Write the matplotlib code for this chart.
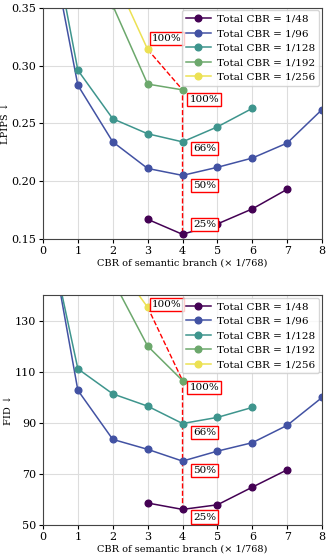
import numpy as np
import matplotlib
matplotlib.use("Agg")
from matplotlib import pyplot as plt

plt.rcParams['font.family'] = ['DejaVu Serif']

labels = ["Total CBR = 1/48", "Total CBR = 1/96", "Total CBR = 1/128",
          "Total CBR = 1/192", "Total CBR = 1/256"]

# x positions (semantic CBR x 1/768) per series
x_48 = [3, 4, 5, 6, 7]
x_96 = [0, 1, 2, 3, 4, 5, 6, 7, 8]
x_128 = [0, 1, 2, 3, 4, 5, 6]
x_192 = [2, 3, 4]
x_256 = [2, 3]

lpips_48 = [0.167, 0.154, 0.163, 0.176, 0.193]
lpips_96 = [0.44, 0.283, 0.234, 0.211, 0.205, 0.212, 0.220, 0.233, 0.262]
lpips_128 = [0.455, 0.296, 0.254, 0.241, 0.234, 0.247, 0.263]
lpips_192 = [0.352, 0.284, 0.279]
lpips_256 = [0.38, 0.314]

fid_48 = [58.7, 56.2, 58.0, 64.9, 71.7]
fid_96 = [179, 102.8, 83.6, 79.7, 75.1, 79.0, 82.3, 89.1, 100.0]
fid_128 = [175, 111.2, 101.4, 96.6, 89.8, 92.2, 96.1]
fid_192 = [146, 120.1, 106.6]
fid_256 = [154, 135.3]

pct_labels = ["100%", "100%", "66%", "50%", "25%"]

colors = ['#440154', '#4252a3', '#3e958d', '#6ca86c', '#ece153']


def draw_panel(ax, ys, ylabel, ylim, yticks, label_pos):
    xs = [x_48, x_96, x_128, x_192, x_256]
    for x, y, c, lab in zip(xs, ys, colors, labels):
        ax.plot(x, y, '-o', color=c, lw=1.1, ms=4.8, label=lab)

    # red dashed path: 1/256 -> 1/192 -> down to 1/48 at x=4
    rx = [3, 4, 4]
    ry = [ys[4][1], ys[3][2], ys[0][1]]
    ax.plot(rx, ry, '--', color='red', lw=1.0, zorder=1.5)

    for (px, py), t in zip(label_pos, pct_labels):
        ax.text(px, py, t, fontsize=7.5, ha='left', va='center',
                bbox=dict(boxstyle='square,pad=0.2', fc='white', ec='red', lw=1.0))

    ax.set_xlim(0, 8)
    ax.set_ylim(*ylim)
    ax.set_xticks(range(9))
    ax.set_yticks(yticks)
    ax.tick_params(labelsize=8, length=3, pad=2)
    ax.grid(True, color='#dddddd', lw=0.8)
    ax.set_axisbelow(True)
    for s in ax.spines.values():
        s.set_color('#444444')
    ax.set_xlabel("CBR of semantic branch (\u00d7 1/768)", fontsize=7, labelpad=2)
    ax.set_ylabel(ylabel, fontsize=7, labelpad=1)
    ax.legend(loc='upper right', fontsize=7.5, handlelength=2.4,
              borderpad=0.4, labelspacing=0.5, handletextpad=0.6,
              borderaxespad=0.25)


fig = plt.figure(figsize=(3.28, 5.57), dpi=100)
ax1 = fig.add_axes([0.131, 0.571, 0.851, 0.415])
ax2 = fig.add_axes([0.131, 0.057, 0.851, 0.413])

draw_panel(ax1, [lpips_48, lpips_96, lpips_128, lpips_192, lpips_256],
           "LPIPS \u2193", (0.15, 0.35), [0.15, 0.20, 0.25, 0.30, 0.35],
           [(3.13, 0.3235), (4.2, 0.2705), (4.3, 0.2285), (4.3, 0.1965), (4.3, 0.1625)])
ax1.yaxis.set_major_formatter(matplotlib.ticker.FormatStrFormatter('%.2f'))

draw_panel(ax2, [fid_48, fid_96, fid_128, fid_192, fid_256],
           "FID \u2193", (50, 140), [50, 70, 90, 110, 130],
           [(3.13, 136.5), (4.2, 104.0), (4.3, 86.2), (4.3, 71.3), (4.3, 53.2)])

fig.savefig("out.png", dpi=100)
